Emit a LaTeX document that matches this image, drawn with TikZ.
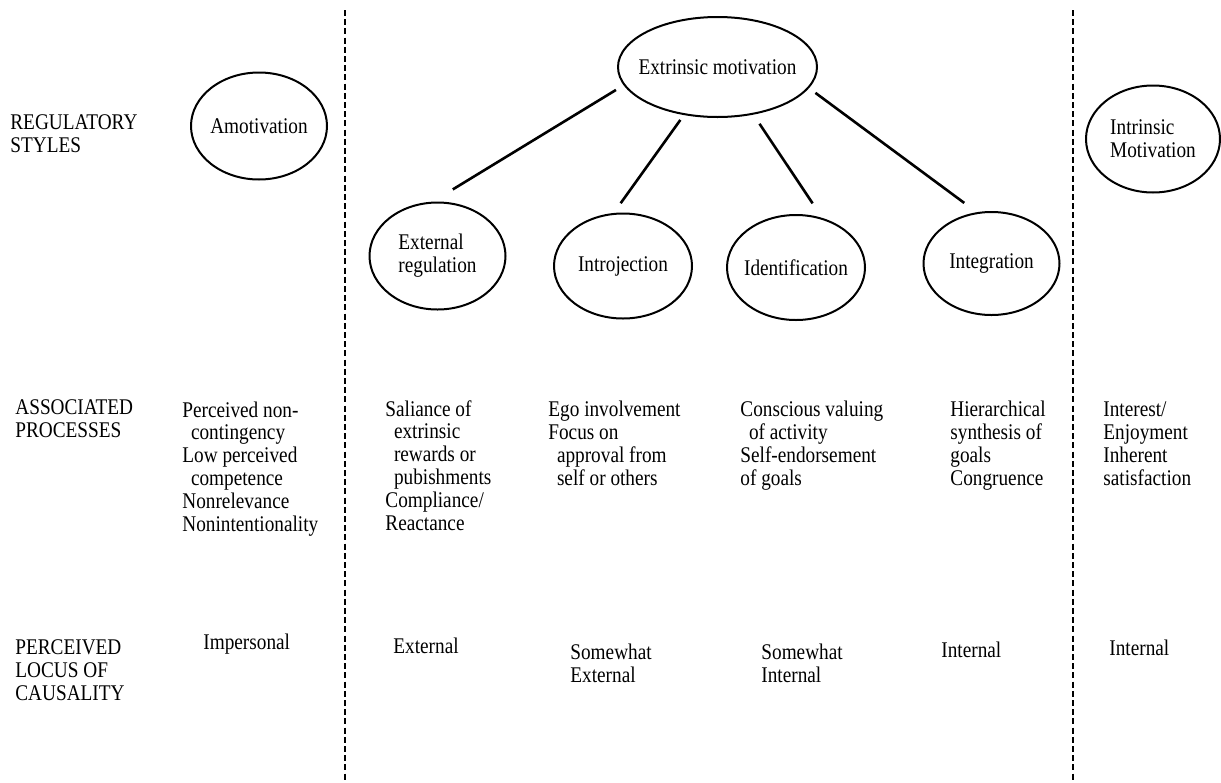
\documentclass[tikz,border=0pt]{standalone}
\usepackage{fontspec}
\setmainfont{Liberation Serif}[FakeStretch=0.86]
\usetikzlibrary{shapes.geometric}
\newcommand{\fz}{\fontsize{11.2pt}{11.4pt}\selectfont}
\newcommand{\ind}{\hspace*{4.3pt}}

\begin{document}
\begin{tikzpicture}
        [   x = 0.5pt
        ,   y = -0.5pt
        ,   font = \fz
        ,   motiv/.style =
            {   ellipse, draw, line width = 1pt
            ,   inner sep = -10pt, align = left
            ,   minimum width = 68pt, minimum height = 53.5pt
            }
        ,   link/.style = {line width = 1.3pt}
        ,   divider/.style = {line width = 0.9pt, dash pattern = on 3pt off 1.6pt}
        ,   rowhead/.style = {anchor = base west, inner sep = 0pt, align = left}
        ,   proc/.style = {anchor = base west, inner sep = 0pt, align = left}
        ]
        \useasboundingbox (0,0) rectangle (1221,782);

        \coordinate (ltop) at (345,10);
        \coordinate (lbot) at (345,782);
        \coordinate (rtop) at (1073,10);
        \coordinate (rbot) at (1073,782);
        \draw[divider] (ltop) -- (lbot);
        \draw[divider] (rtop) -- (rbot);

        \node[rowhead] (regsty) at (10,152) {REGULATORY\\STYLES};
        \node[rowhead] (asspro) at (15,437) {ASSOCIATED\\PROCESSES};
        \node[rowhead] (locus) at (15,700) {PERCEIVED\\LOCUS OF\\CAUSALITY};

        \node[motiv] (amot) at (259,126) {Amotivation};
        \node[motiv, minimum width = 99.5pt, minimum height = 50pt] (extr) at (717.5,67) {Extrinsic motivation};
        \node[motiv] (extreg) at (437.5,256) {External\\regulation};
        \node[motiv, minimum width = 69pt, minimum height = 52.5pt] (introj) at (623,266) {Introjection};
        \node[motiv, minimum width = 69pt, minimum height = 52.5pt] (ident) at (796,267.5) {Identification};
        \node[motiv, minimum height = 51.5pt] (integ) at (991.5,263.5) {Integration};
        \node[motiv, minimum width = 67pt] (intr) at (1153,139) {Intrinsic\\Motivation};

        \draw[link, shorten <= 4.5pt, shorten >= 11.75pt] (extr.191) -- (extreg.95);
        \draw[link, shorten <= 3pt, shorten >= 6pt] (extr.235) -- (introj.100);
        \draw[link, shorten <= 5.5pt, shorten >= 8.75pt] (extr.307) -- (ident.62);
        \draw[link, shorten <= 4pt, shorten >= 7.8pt] (extr.347) -- (integ.106);

        \node[proc] (pamot) at (182,531)
            {Perceived non-\\\ind contingency\\Low perceived\\\ind competence\\Nonrelevance\\Nonintentionality};
        \node[proc] (pextreg) at (385,530)
            {Saliance of\\\ind extrinsic\\\ind rewards or\\\ind pubishments\\Compliance/\\Reactance};
        \node[proc] (pintroj) at (548,485)
            {Ego involvement\\Focus on\\\ind approval from\\\ind self or others};
        \node[proc] (pident) at (740,485)
            {Conscious valuing\\\ind of activity\\Self-endorsement\\of goals};
        \node[proc] (pinteg) at (950,485)
            {Hierarchical\\synthesis of\\goals\\Congruence};
        \node[proc] (pintr) at (1103,485)
            {Interest/\\Enjoyment\\Inherent\\satisfaction};

        \node[proc] (lamot) at (203,649) {Impersonal};
        \node[proc] (lextreg) at (393,653) {External};
        \node[proc] (lintroj) at (570,682) {Somewhat\\External};
        \node[proc] (lident) at (761,682) {Somewhat\\Internal};
        \node[proc] (linteg) at (941,657) {Internal};
        \node[proc] (lintr) at (1109,655) {Internal};
    \end{tikzpicture}
\end{document}
